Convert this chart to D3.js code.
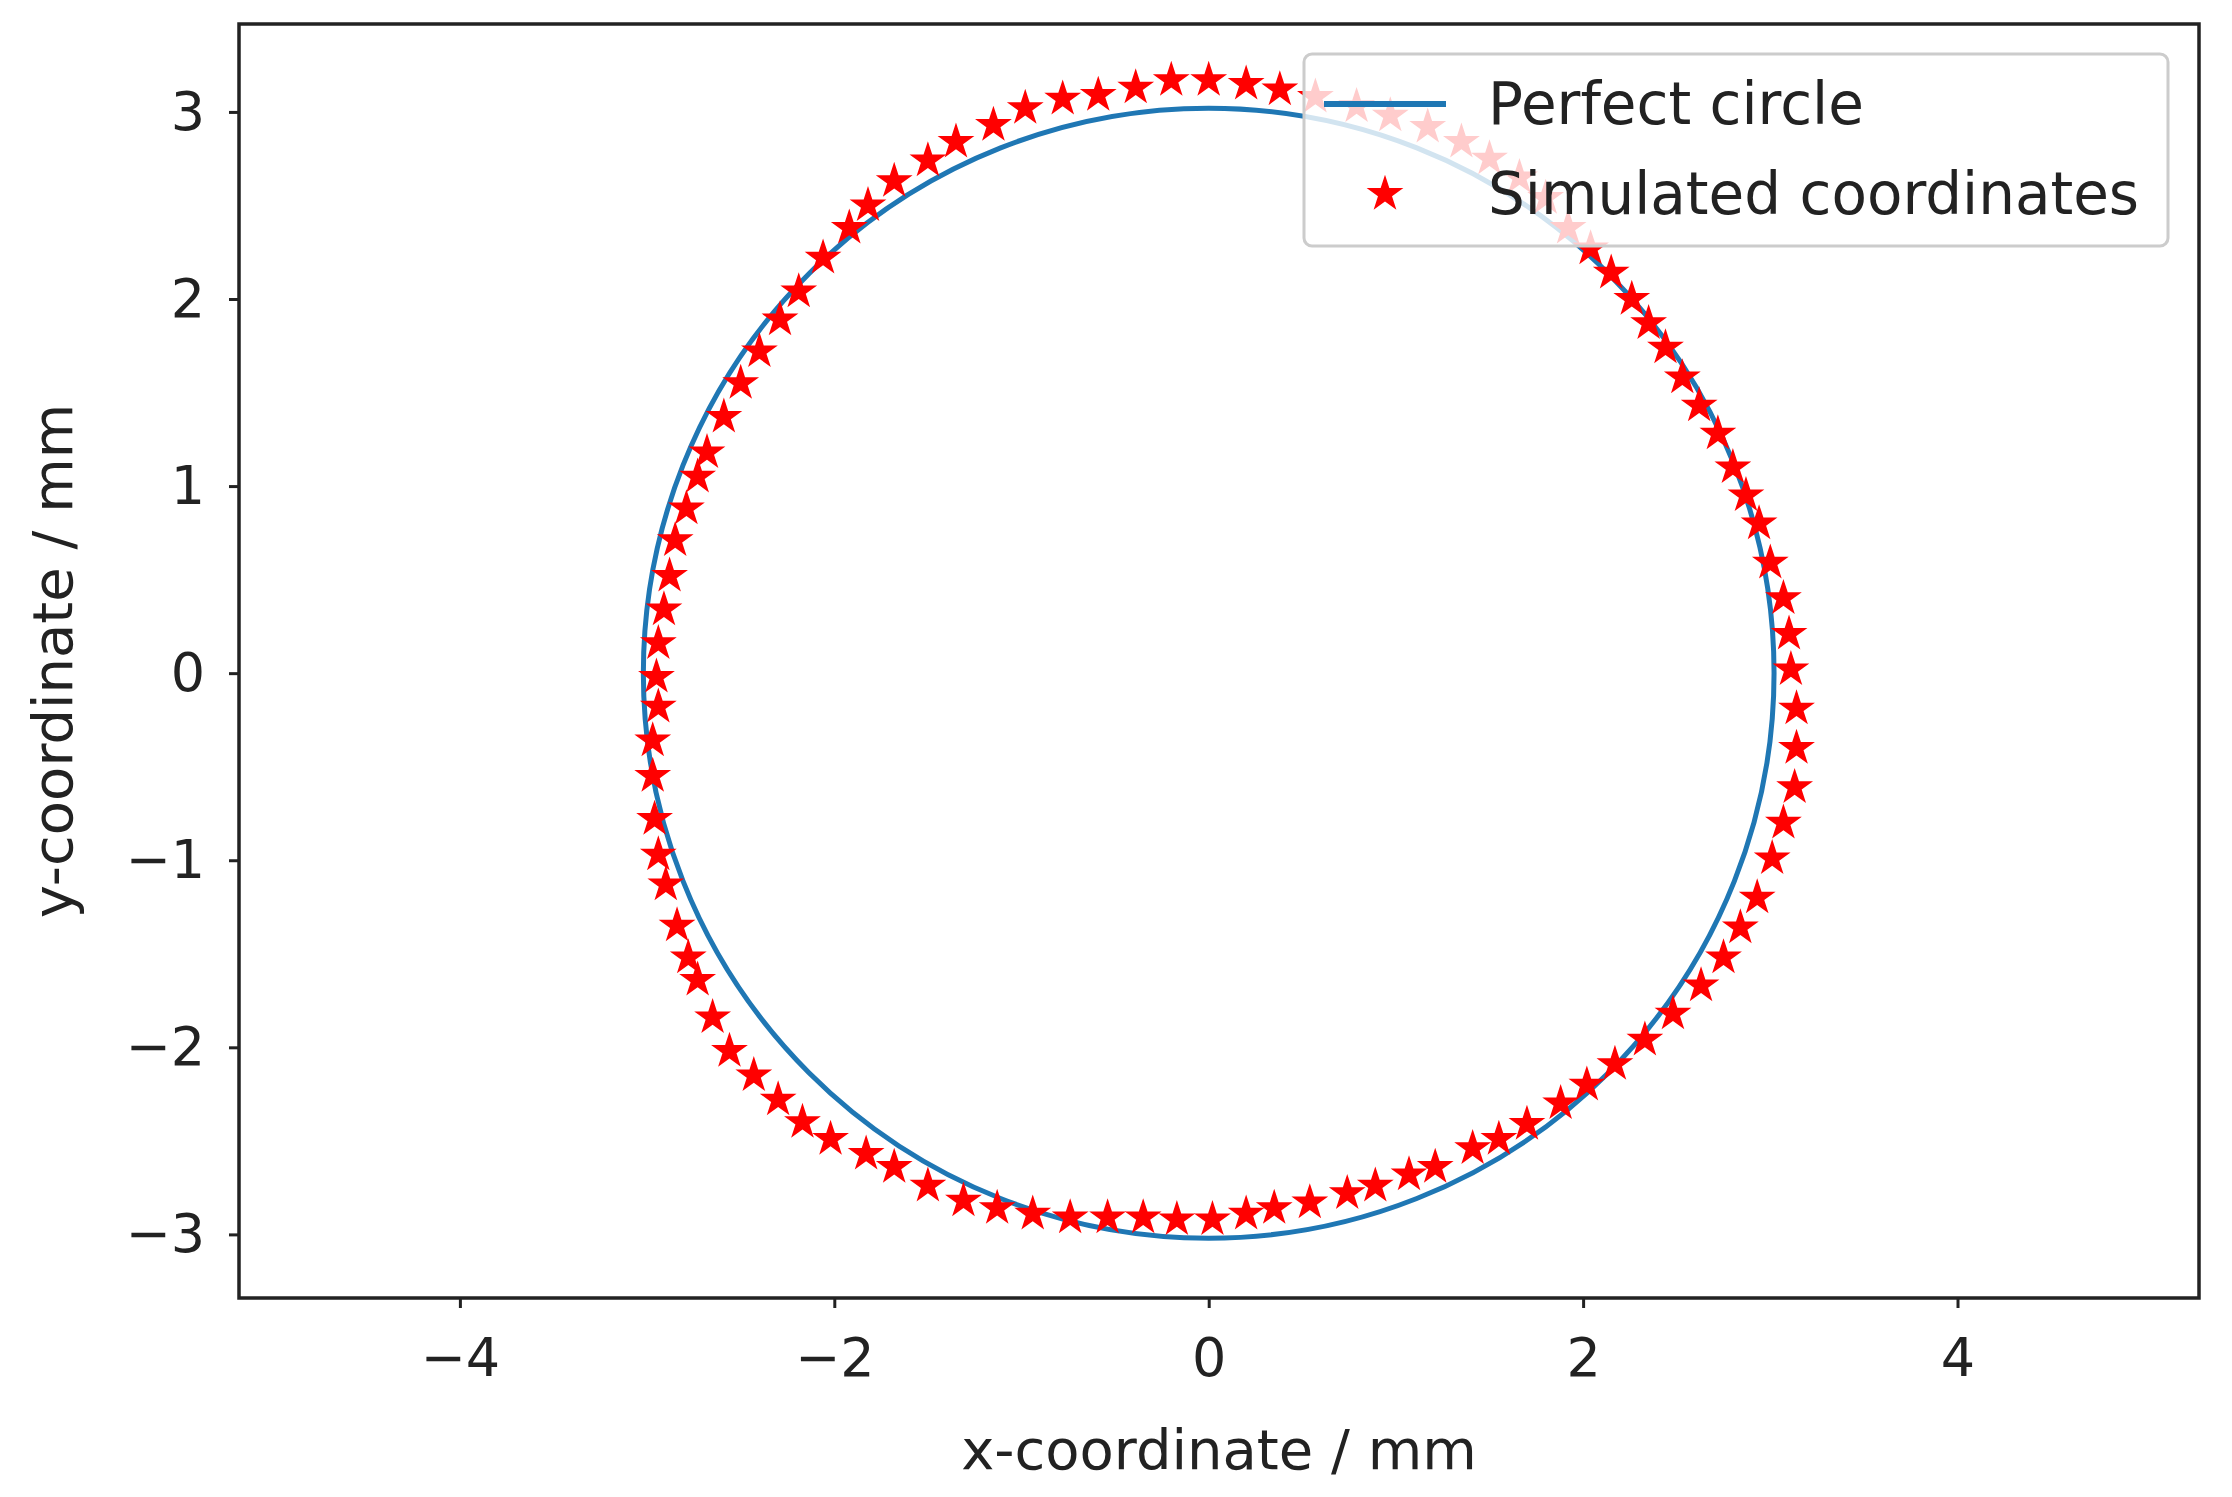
<!DOCTYPE html>
<html lang="en">
<head>
<meta charset="utf-8">
<title>Circle vs simulated</title>
<script src="https://d3js.org/d3.v7.min.js"></script>
<style>
  body { margin: 0; background: #fff; }
  text { font-family: "DejaVu Sans", sans-serif; fill: #222; }
</style>
</head>
<body>
<div id="chart"></div>
<script>
var w = 2232, h = 1497;
var m = {left: 239, right: 33, top: 24, bottom: 199};

// data
var circleCenter = [0, 0];
var circleRadius = 3.02;
var xTicks = [-4, -2, 0, 2, 4];
var yTicks = [-3, -2, -1, 0, 1, 2, 3];
var simX = [0, -0.2, -0.39, -0.59, -0.78, -0.98, -1.15, -1.35, -1.5, -1.68, -1.82, -1.92, -2.06, -2.19, -2.29, -2.4, -2.5, -2.59, -2.68, -2.73, -2.79, -2.85, -2.88, -2.91, -2.94, -2.95, -2.94, -2.97, -2.97, -2.96, -2.94, -2.9, -2.84, -2.78, -2.73, -2.65, -2.56, -2.43, -2.3, -2.17, -2.02, -1.83, -1.68, -1.5, -1.31, -1.13, -0.94, -0.74, -0.54, -0.35, -0.17, 0.02, 0.2, 0.35, 0.54, 0.74, 0.89, 1.07, 1.21, 1.41, 1.55, 1.7, 1.88, 2.02, 2.17, 2.33, 2.48, 2.63, 2.75, 2.84, 2.93, 3.01, 3.07, 3.13, 3.14, 3.14, 3.11, 3.1, 3.07, 3.0, 2.94, 2.87, 2.8, 2.72, 2.62, 2.53, 2.44, 2.35, 2.26, 2.15, 2.04, 1.92, 1.8, 1.66, 1.5, 1.35, 1.17, 0.97, 0.79, 0.57, 0.38, 0.2];
var simY = [3.17, 3.17, 3.13, 3.09, 3.07, 3.02, 2.93, 2.84, 2.74, 2.63, 2.5, 2.38, 2.22, 2.04, 1.89, 1.72, 1.55, 1.37, 1.18, 1.05, 0.88, 0.71, 0.52, 0.34, 0.16, -0.02, -0.18, -0.36, -0.55, -0.78, -0.97, -1.13, -1.35, -1.52, -1.64, -1.84, -2.02, -2.15, -2.28, -2.4, -2.49, -2.57, -2.64, -2.74, -2.82, -2.86, -2.89, -2.91, -2.91, -2.91, -2.92, -2.92, -2.89, -2.86, -2.83, -2.78, -2.74, -2.68, -2.64, -2.54, -2.49, -2.41, -2.3, -2.2, -2.09, -1.96, -1.82, -1.67, -1.52, -1.36, -1.2, -0.99, -0.8, -0.61, -0.4, -0.19, 0.02, 0.21, 0.4, 0.59, 0.8, 0.95, 1.1, 1.28, 1.43, 1.58, 1.74, 1.87, 2.0, 2.14, 2.27, 2.38, 2.54, 2.65, 2.75, 2.84, 2.92, 2.98, 3.03, 3.08, 3.12, 3.15];

var xScale = d3.scaleLinear().domain([-5.18, 5.29]).range([m.left, w - m.right]);
var yScale = d3.scaleLinear().domain([-3.34, 3.47]).range([h - m.bottom, m.top]);

var svg = d3.select("#chart").append("svg").attr("width", w).attr("height", h);

var plot = svg.append("g");
plot.append("clipPath").attr("id", "clip").append("rect")
  .attr("x", m.left).attr("y", m.top)
  .attr("width", w - m.left - m.right).attr("height", h - m.top - m.bottom);

// perfect circle
plot.append("ellipse")
  .attr("clip-path", "url(#clip)")
  .attr("cx", xScale(circleCenter[0]))
  .attr("cy", yScale(circleCenter[1]))
  .attr("rx", xScale(circleRadius) - xScale(0))
  .attr("ry", yScale(0) - yScale(circleRadius))
  .attr("fill", "none").attr("stroke", "#1f77b4").attr("stroke-width", 5);

// simulated stars
var star = d3.symbol().type(d3.symbolStar).size(420);
plot.selectAll(".star").data(simX.map((x, i) => [x, simY[i]]))
  .enter().append("path")
  .attr("class", "star")
  .attr("d", star)
  .attr("transform", d => "translate(" + xScale(d[0]) + "," + yScale(d[1]) + ")")
  .attr("fill", "red");

// axes
var xAxis = d3.axisBottom(xScale).tickValues(xTicks).tickSize(10).tickPadding(30)
  .tickFormat(d => d < 0 ? "\u2212" + Math.abs(d) : d);
var yAxis = d3.axisLeft(yScale).tickValues(yTicks).tickSize(10).tickPadding(24)
  .tickFormat(d => d < 0 ? "\u2212" + Math.abs(d) : d);

svg.append("g").attr("transform", "translate(0," + (h - m.bottom) + ")").call(xAxis)
  .call(g => g.select(".domain").remove())
  .call(g => g.selectAll("line").attr("stroke", "#222").attr("stroke-width", 3))
  .call(g => g.selectAll("text").attr("font-size", 54).attr("fill", "#222"));
svg.append("g").attr("transform", "translate(" + m.left + ",0)").call(yAxis)
  .call(g => g.select(".domain").remove())
  .call(g => g.selectAll("line").attr("stroke", "#222").attr("stroke-width", 3))
  .call(g => g.selectAll("text").attr("font-size", 54).attr("fill", "#222"));

svg.append("rect")
  .attr("x", m.left).attr("y", m.top)
  .attr("width", w - m.left - m.right).attr("height", h - m.top - m.bottom)
  .attr("fill", "none").attr("stroke", "#222").attr("stroke-width", 3.5);

// axis labels
svg.append("text")
  .attr("x", (m.left + w - m.right) / 2).attr("y", h - 28)
  .attr("text-anchor", "middle").attr("font-size", 56)
  .text("x-coordinate / mm");
svg.append("text")
  .attr("transform", "translate(72," + ((m.top + h - m.bottom) / 2) + ") rotate(-90)")
  .attr("text-anchor", "middle").attr("font-size", 56)
  .text("y-coordinate / mm");

// legend
var lg = svg.append("g").attr("transform", "translate(1304,54)");
lg.append("rect").attr("width", 864).attr("height", 192).attr("rx", 8)
  .attr("fill", "white").attr("fill-opacity", 0.8)
  .attr("stroke", "#ccc").attr("stroke-width", 3);
lg.append("line").attr("x1", 20).attr("x2", 142).attr("y1", 50).attr("y2", 50)
  .attr("stroke", "#1f77b4").attr("stroke-width", 6);
lg.append("path").attr("d", star).attr("transform", "translate(81,140)").attr("fill", "red");
lg.append("text").attr("x", 184).attr("y", 70).attr("font-size", 58).text("Perfect circle");
lg.append("text").attr("x", 184).attr("y", 160).attr("font-size", 58).text("Simulated coordinates");
</script>
</body>
</html>
